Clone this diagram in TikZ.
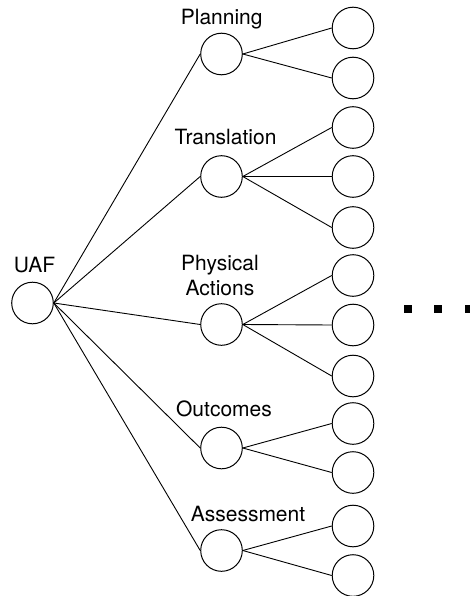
\documentclass[tikz,border=0pt]{standalone}
\usepackage{fontspec}
\setmainfont{TeX Gyre Heros}
\begin{document}
\begin{tikzpicture}[x=1pt,y=-1pt,
  bubble/.style={draw,circle,line width=1pt,minimum size=41.6pt,inner sep=0pt},
  tag/.style={anchor=base,inner sep=0pt,font=\fontsize{21}{25}\selectfont},
  link/.style={line width=0.9pt},
  dot/.style={fill=black,minimum size=8pt,inner sep=0pt}]
\useasboundingbox (0,0) rectangle (470,596);

% root
\node[bubble] (uaf) at (32.5,303) {};
\node[tag] (uafL) at (34.5,272.5) {UAF};

% first level
\node[bubble] (plan) at (221.5,54) {};
\node[bubble] (trans) at (221.5,176.5) {};
\node[bubble] (phys) at (221.5,324.5) {};
\node[bubble] (outc) at (221.5,448) {};
\node[bubble] (asse) at (221.5,550.5) {};

\node[tag] (planL) at (221.7,25) {Planning};
\node[tag] (transL) at (225.5,145) {Translation};
\node[tag,align=center] (physL) at (220,295) {Physical\\Actions};
\node[tag] (outcL) at (224,416) {Outcomes};
\node[tag] (asseL) at (248,521.7) {Assessment};

% second level
\node[bubble] (p1) at (353,28) {};
\node[bubble] (p2) at (353,78) {};
\node[bubble] (t1) at (353,127.5) {};
\node[bubble] (t2) at (353,176.5) {};
\node[bubble] (t3) at (353,227.5) {};
\node[bubble] (a1) at (353,275.5) {};
\node[bubble] (a2) at (353,325) {};
\node[bubble] (a3) at (353,376) {};
\node[bubble] (o1) at (353,423.5) {};
\node[bubble] (o2) at (353,472.5) {};
\node[bubble] (s1) at (353,526) {};
\node[bubble] (s2) at (353,575.5) {};

% connectors
\foreach \n in {plan,trans,phys,outc,asse}
  \draw[link] (uaf.east) -- (\n.west);
\foreach \a/\b in {plan/p1,plan/p2,trans/t1,trans/t2,trans/t3,
                   phys/a1,phys/a2,phys/a3,outc/o1,outc/o2,asse/s1,asse/s2}
  \draw[link] (\a.east) -- (\b.west);

% continuation marks
\node[dot] (d1) at (407.5,309) {};
\node[dot] (d2) at (438,309) {};
\node[dot] (d3) at (468.5,309) {};
\end{tikzpicture}
\end{document}
